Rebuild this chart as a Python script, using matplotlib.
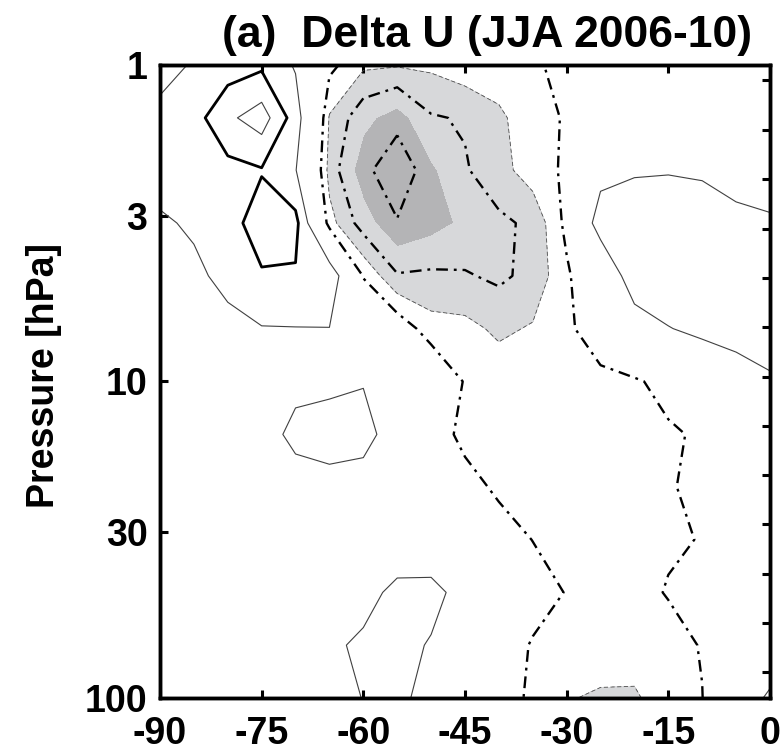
import numpy as np
import matplotlib
matplotlib.use('Agg')
import matplotlib.pyplot as plt

plt.rcParams['font.family'] = ['Liberation Sans', 'DejaVu Sans']
plt.rcParams['font.weight'] = 'bold'

# grid: latitude (deg) and pressure levels (hPa)
lat = [-90, -85, -80, -75, -70, -65, -60, -55, -50, -45,
       -40, -35, -30, -25, -20, -15, -10, -5, 0]
pres = [1.0, 1.47, 2.15, 3.16, 4.64, 6.81, 10.0, 14.7, 21.5, 31.6, 46.4, 68.1, 100.0]

# zonal wind difference (m/s), rows = pressure levels, cols = latitudes
du = np.array([
    [0.8, 1.05, 1.5, 1.8, 0.9, -0.85, -1.4, -1.45, -1.4, -1.2, -1.2, -1.1, -0.8, -0.5, -0.3, -0.15, 0.0, 0.1, 0.2],
    [1.15, 1.6, 2.8, 3.5, 1.5, -1.55, -2.35, -2.75, -2.05, -1.95, -1.6, -1.2, -0.95, -0.6, -0.3, -0.1, 0.1, 0.2, 0.3],
    [1.3, 1.5, 1.7, 1.93, 1.05, -1.7, -2.8, -3.5, -2.6, -2.05, -1.7, -1.23, -0.92, 0.6, 0.9, 0.95, 0.9, 0.7, 0.6],
    [0.9, 1.1, 1.6, 2.5, 2.3, -1.3, -2.25, -2.95, -2.7, -2.4, -2.1, -1.9, -0.85, 1.6, 1.6, 1.5, 1.4, 1.2, 1.1],
    [0.7, 0.85, 1.2, 1.9, 1.9, 1.8, -1.05, -1.95, -1.9, -1.95, -2.1, -1.85, -1.1, -0.3, 1.8, 1.9, 1.8, 1.6, 1.5],
    [0.5, 0.6, 0.8, 0.95, 0.97, 0.98, 0.0, -0.6, -1.3, -1.35, -1.6, -1.45, -1.15, -0.55, 0.3, 0.95, 1.3, 1.4, 1.4],
    [0.3, 0.3, 0.4, 0.5, 0.7, 0.8, 0.97, 0.5, -0.3, -1.05, -1.2, -1.3, -1.35, -1.2, -1.1, -0.75, -0.2, 0.5, 0.9],
    [0.2, 0.2, 0.3, 0.5, 1.3, 1.4, 1.2, 0.7, -0.4, -1.3, -1.4, -1.45, -1.4, -1.35, -1.2, -1.1, -0.9, -0.4, 0.0],
    [0.1, 0.1, 0.2, 0.3, 0.5, 0.7, 0.75, 0.3, 0.0, -0.6, -1.2, -1.4, -1.45, -1.4, -1.35, -1.1, -0.7, -0.3, 0.1],
    [0.0, 0.0, 0.1, 0.2, 0.3, 0.4, 0.6, 0.6, 0.5, 0.3, -0.5, -1.02, -1.3, -1.4, -1.4, -1.1, -0.97, -0.5, -0.1],
    [0.0, 0.0, 0.1, 0.2, 0.3, 0.5, 0.8, 1.15, 1.2, 0.75, 0.0, -0.5, -1.05, -1.3, -1.25, -0.95, -0.6, -0.3, 0.0],
    [0.0, 0.0, 0.0, 0.1, 0.3, 0.9, 1.1, 1.2, 0.95, 0.3, -0.3, -1.1, -1.2, -1.1, -1.15, -1.3, -0.95, -0.5, 0.3],
    [0.0, 0.0, 0.0, 0.1, 0.3, 0.7, 1.02, 1.1, 0.85, 0.2, -0.6, -1.15, -1.45, -1.6, -1.6, -1.1, -1.02, 0.4, 1.15],
])

xticks = [-90, -75, -60, -45, -30, -15, 0]
xlabels = ['-90', '-75', '-60', '-45', '-30', '-15', '0']
yticks = [1, 3, 10, 30, 100]
ylabels = ['1', '3', '10', '30', '100']
right_ticks = [1.12, 1.61, 2.3, 3.29, 4.71, 6.75, 9.66, 13.8, 19.8, 28.3, 40.5, 58.0, 83.0]

fig = plt.figure(figsize=(7.82, 7.51), dpi=100)
ax = fig.add_axes([0.2046, 0.0706, 0.780, 0.843])

X, Y = np.meshgrid(lat, np.log10(pres))

# shading of strong easterly anomalies
ax.contourf(X, Y, du, levels=[-10, -2.5, -1.5], colors=['#b4b4b6', '#d7d8da'])
ax.contour(X, Y, du, levels=[-1.5], colors='0.3', linewidths=0.6,
           linestyles=[(0, (5, 3))])

# positive contours
ax.contour(X, Y, du, levels=[1, 3], colors='0.25', linewidths=0.8)
ax.contour(X, Y, du, levels=[2], colors='k', linewidths=2.0)

# negative contours
ax.contour(X, Y, du, levels=[-3, -2, -1], colors='k', linewidths=1.7,
           linestyles=[(0, (5, 2.5, 1.2, 2.5))] * 3)

ax.set_xlim(-90, 0)
ax.set_ylim(2, 0)
ax.set_xticks(xticks)
ax.set_xticklabels(xlabels)
ax.set_yticks(np.log10(yticks))
ax.set_yticklabels(ylabels)
ax.tick_params(direction='in', length=6, width=2.2, top=True, right=False,
               labelsize=27)
ax.tick_params(axis='x', pad=13)
ax.tick_params(axis='y', pad=9)

for s in ax.spines.values():
    s.set_linewidth(2.5)

ax2 = ax.twinx()
ax2.set_ylim(2, 0)
ax2.set_yticks(np.log10(right_ticks))
ax2.tick_params(direction='in', length=6, width=2.2, labelright=False)
for s in ax2.spines.values():
    s.set_linewidth(2.5)

ax.set_ylabel('Pressure [hPa]', fontsize=27, fontweight='bold')
ax.yaxis.set_label_coords(-0.16, 0.51)

fig.text(487 / 782, 1 - 47 / 751, '(a)  Delta U (JJA 2006-10)',
         fontsize=32, fontweight='bold', ha='center', va='baseline')

fig.savefig('out.png', dpi=100)
